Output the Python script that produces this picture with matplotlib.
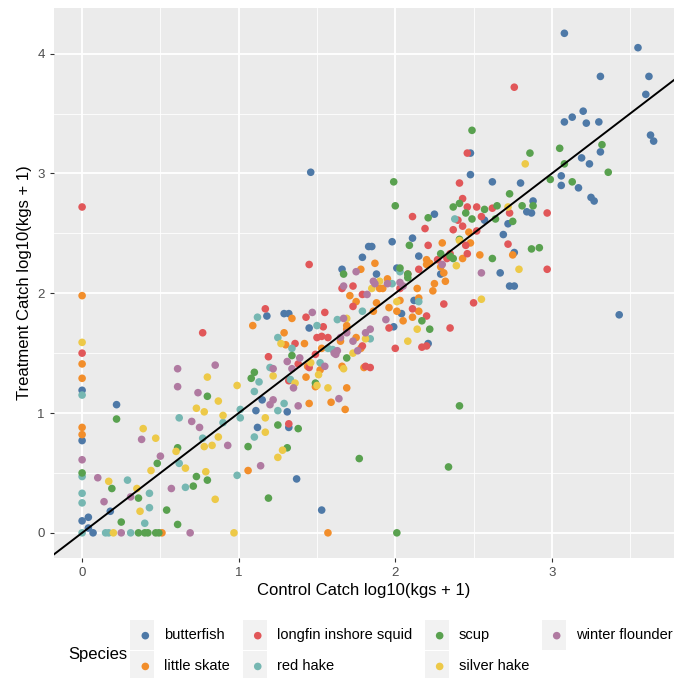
import matplotlib
matplotlib.use("Agg")
import matplotlib.pyplot as plt
from matplotlib.patches import Rectangle
import numpy as np

plt.rcParams['font.family'] = ['Liberation Sans', 'DejaVu Sans']

# species names in legend order
species = ['butterfish', 'little skate', 'longfin inshore squid', 'red hake',
           'scup', 'silver hake', 'winter flounder']
colors = ['#4E79A7', '#F28E2B', '#E15759', '#76B7B2', '#59A14F', '#EDC948', '#B07AA1']

# (control, treatment) log10(kgs + 1)
butterfish = [(0.00, 1.19), (0.00, 0.77), (0.04, 0.13), (0.00, 0.10), (0.04, 0.04), (0.07, 0.00),
              (0.22, 1.07), (0.18, 0.18), (1.11, 1.02), (1.15, 1.11), (1.31, 1.01), (1.12, 0.88),
              (1.32, 0.88), (1.37, 0.45), (1.53, 0.19), (1.18, 1.81), (1.29, 1.83), (1.32, 1.83),
              (1.45, 1.71), (1.46, 3.01), (1.66, 2.20), (1.79, 2.30), (1.83, 2.39), (1.85, 2.39),
              (1.88, 2.16), (1.98, 2.43), (1.99, 1.72), (2.01, 2.21), (2.04, 1.83), (2.11, 2.46),
              (2.12, 1.94), (2.14, 1.94), (2.15, 2.31), (2.21, 1.58), (2.25, 2.66), (2.29, 2.16),
              (2.48, 3.17), (2.48, 2.99), (2.57, 2.61), (2.62, 2.93), (2.67, 2.17), (2.69, 2.49),
              (2.72, 2.58), (2.73, 2.06), (2.76, 2.06), (2.76, 2.34), (2.80, 2.92), (2.84, 2.68),
              (2.87, 2.67), (2.88, 2.77), (3.08, 4.17), (3.55, 4.05), (3.31, 3.81), (3.62, 3.81),
              (3.60, 3.66), (3.20, 3.52), (3.13, 3.47), (3.08, 3.43), (3.22, 3.42), (3.30, 3.43),
              (3.63, 3.32), (3.65, 3.27), (3.31, 3.18), (3.19, 3.13), (3.24, 3.08), (3.06, 2.98),
              (3.06, 2.90), (3.17, 2.88), (3.25, 2.80), (3.27, 2.77), (3.43, 1.82)]

little_skate = [(0.00, 1.98), (0.00, 1.41), (0.00, 1.29), (0.00, 0.88), (0.00, 0.82), (0.51, 0.00),
                (1.06, 0.52), (1.09, 1.73), (1.29, 1.67), (1.30, 1.57), (1.34, 1.79), (1.42, 1.58),
                (1.43, 1.30), (1.44, 1.39), (1.45, 1.08), (1.49, 1.22), (1.52, 1.36), (1.53, 1.54),
                (1.57, 0.00), (1.59, 1.09), (1.65, 1.60), (1.66, 1.39), (1.68, 1.03), (1.69, 1.21),
                (1.69, 1.70), (1.69, 1.73), (1.71, 1.98), (1.75, 1.93), (1.75, 1.63), (1.78, 1.54),
                (1.78, 2.20), (1.80, 1.38), (1.86, 1.85), (1.87, 2.25), (1.88, 1.92), (1.90, 2.04),
                (1.92, 2.04), (1.95, 2.12), (1.96, 1.88), (2.01, 1.85), (2.03, 1.94), (2.05, 1.77),
                (2.11, 1.80), (2.14, 2.04), (2.15, 1.96), (2.15, 1.85), (2.20, 2.24), (2.20, 2.28),
                (2.22, 2.25), (2.24, 2.02), (2.25, 2.08), (2.29, 2.22), (2.30, 2.42), (2.31, 2.17),
                (2.32, 2.10), (2.43, 2.29), (2.47, 2.51), (2.48, 2.42), (2.54, 2.32), (2.75, 2.32)]

longfin_squid = [(0.00, 2.72), (0.00, 1.50), (0.77, 1.67), (1.17, 1.87), (1.43, 1.80), (1.55, 1.84),
                 (1.45, 2.24), (1.54, 1.72), (1.50, 1.63), (1.53, 1.64), (1.57, 1.63), (1.36, 1.58),
                 (1.49, 1.49), (1.19, 1.47), (1.38, 1.41), (1.45, 1.38), (1.32, 1.27), (1.32, 0.91),
                 (1.66, 2.04), (1.73, 2.06), (1.79, 1.99), (1.73, 1.89), (1.79, 1.56), (1.81, 1.39),
                 (1.84, 1.38), (1.96, 1.71), (2.00, 1.54), (2.03, 2.04), (2.08, 2.16), (2.11, 1.87),
                 (2.11, 2.64), (2.15, 2.20), (2.19, 2.54), (2.21, 2.40), (2.20, 1.81), (2.17, 1.55),
                 (2.20, 1.56), (2.27, 2.28), (2.33, 2.29), (2.35, 2.33), (2.31, 1.91), (2.35, 1.71),
                 (2.37, 2.53), (2.40, 2.61), (2.41, 2.92), (2.43, 2.79), (2.43, 2.56), (2.45, 2.40),
                 (2.46, 2.33), (2.46, 2.72), (2.46, 3.17), (2.50, 1.92), (2.52, 2.72), (2.52, 2.52),
                 (2.55, 2.64), (2.62, 2.71), (2.72, 2.41), (2.73, 2.67), (2.76, 3.72), (2.97, 2.67),
                 (2.97, 2.20)]

red_hake = [(0.00, 1.15), (0.00, 0.47), (0.00, 0.33), (0.00, 0.25), (0.00, 0.00), (0.15, 0.00),
            (0.17, 0.00), (0.31, 0.00), (0.29, 0.44), (0.43, 0.33), (0.43, 0.21), (0.40, 0.08),
            (0.62, 0.96), (0.62, 0.58), (0.66, 0.38), (0.77, 0.79), (0.90, 0.92), (1.01, 0.96),
            (1.01, 1.03), (0.99, 0.48), (1.10, 1.18), (1.10, 0.80), (1.12, 1.80), (1.13, 1.26),
            (1.20, 1.38), (1.25, 1.63), (1.34, 1.54), (1.29, 1.08), (1.25, 1.02), (1.33, 1.28),
            (1.50, 1.73), (1.63, 1.78), (1.57, 1.54), (1.60, 1.53), (1.52, 1.42), (1.79, 1.85),
            (1.84, 1.62), (1.98, 2.08), (2.03, 2.18), (2.15, 1.93), (2.38, 2.62)]

scup = [(0.00, 0.50), (0.22, 0.95), (0.19, 0.37), (0.36, 0.29), (0.25, 0.09), (0.36, 0.00),
        (0.40, 0.00), (0.42, 0.00), (0.47, 0.00), (0.49, 0.00), (0.48, 0.58), (0.54, 0.19),
        (0.61, 0.07), (0.61, 0.71), (0.73, 0.47), (0.80, 0.44), (0.71, 0.39), (0.80, 1.14),
        (1.06, 0.72), (1.10, 1.34), (1.08, 1.29), (1.25, 0.90), (1.38, 0.87), (1.31, 0.71),
        (1.19, 0.29), (1.34, 1.48), (1.49, 1.25), (1.69, 1.46), (1.67, 2.16), (1.77, 0.62),
        (1.99, 2.93), (2.00, 2.73), (2.01, 0.00), (2.03, 2.21), (2.08, 2.16), (2.08, 2.13),
        (2.09, 2.40), (2.17, 1.77), (2.22, 1.70), (2.21, 2.63), (2.29, 2.33), (2.34, 0.55),
        (2.35, 2.31), (2.37, 2.29), (2.37, 2.72), (2.41, 2.75), (2.41, 2.45), (2.41, 1.06),
        (2.45, 2.67), (2.49, 2.62), (2.49, 3.36), (2.57, 2.70), (2.62, 2.29), (2.64, 2.62),
        (2.65, 2.73), (2.73, 2.83), (2.75, 2.60), (2.81, 2.73), (2.86, 3.17), (2.87, 2.37),
        (2.88, 2.73), (2.92, 2.38), (2.99, 2.95), (3.05, 3.21), (3.08, 3.08), (3.13, 2.93),
        (3.32, 3.24), (3.36, 3.01)]

silver_hake = [(0.00, 1.59), (0.17, 0.43), (0.20, 0.00), (0.35, 0.37), (0.37, 0.18), (0.39, 0.87),
               (0.44, 0.52), (0.47, 0.79), (0.60, 0.68), (0.66, 0.54), (0.79, 0.51), (0.85, 0.28),
               (0.80, 1.30), (0.87, 1.10), (0.73, 1.04), (0.78, 1.01), (0.90, 0.98), (0.87, 0.80),
               (0.78, 0.72), (0.83, 0.73), (0.99, 1.23), (0.97, 0.00), (1.17, 0.96), (1.17, 0.84),
               (1.28, 0.69), (1.25, 0.63), (1.22, 1.31), (1.27, 1.58), (1.36, 1.25), (1.46, 1.42),
               (1.50, 1.23), (1.51, 1.32), (1.57, 1.21), (1.67, 1.37), (1.69, 1.79), (1.73, 1.50),
               (1.81, 1.62), (1.85, 2.04), (1.90, 2.10), (2.01, 1.93), (2.08, 1.60), (2.14, 1.70),
               (2.39, 2.23), (2.41, 2.44), (2.55, 1.95), (2.72, 2.72), (2.79, 2.20), (2.83, 3.08)]

winter_flounder = [(0.00, 0.61), (0.10, 0.46), (0.14, 0.26), (0.25, 0.00), (0.31, 0.30), (0.38, 0.78),
                   (0.50, 0.64), (0.57, 0.37), (0.61, 1.37), (0.61, 1.22), (0.69, 0.00), (0.70, 0.93),
                   (0.74, 1.17), (0.75, 0.88), (0.85, 1.40), (0.93, 0.73), (1.14, 0.56), (1.20, 1.07),
                   (1.22, 1.11), (1.22, 1.37), (1.31, 1.43), (1.34, 1.37), (1.35, 1.21), (1.38, 1.06),
                   (1.39, 1.46), (1.47, 1.84), (1.55, 1.39), (1.61, 1.50), (1.62, 1.49), (1.63, 1.52),
                   (1.64, 1.12), (1.65, 1.63), (1.67, 2.06), (1.67, 1.79), (1.69, 1.67), (1.73, 1.60),
                   (1.76, 1.52), (1.75, 2.18), (1.81, 1.67), (1.82, 1.99), (1.84, 1.70), (1.86, 2.10),
                   (1.87, 2.08), (1.94, 1.78), (1.95, 2.08), (2.03, 2.09), (2.05, 2.06), (2.30, 2.24),
                   (2.55, 2.17)]

series = [butterfish, little_skate, longfin_squid, red_hake, scup, silver_hake, winter_flounder]

fig = plt.figure(figsize=(6.74, 6.78), dpi=100)
ax = fig.add_axes([0.080, 0.177, 0.920, 0.811])
ax.set_facecolor('#EBEBEB')
for s in ax.spines.values():
    s.set_visible(False)

for name, pts, col in zip(species, series, colors):
    arr = np.array(pts)
    ax.scatter(arr[:, 0], arr[:, 1], s=30, color=col, edgecolors='none', label=name, zorder=3)

# 1:1 line
ax.axline((0, 0), slope=1, color='black', lw=1.4, zorder=4)

ax.set_xlim(-0.18, 3.78)
ax.set_ylim(-0.21, 4.38)
ax.set_xticks([0, 1, 2, 3])
ax.set_yticks([0, 1, 2, 3, 4])
ax.set_xticks([0.5, 1.5, 2.5, 3.5], minor=True)
ax.set_yticks([0.5, 1.5, 2.5, 3.5], minor=True)
ax.grid(which='major', color='white', lw=1.3, zorder=0)
ax.grid(which='minor', color='white', lw=0.6, zorder=0)
ax.set_axisbelow(True)
ax.tick_params(which='major', length=3, color='#333333', labelcolor='#4D4D4D', labelsize=9.5)
ax.tick_params(which='minor', length=0)

ax.set_xlabel('Control Catch log10(kgs + 1)', fontsize=12, labelpad=3)
ax.set_ylabel('Treatment Catch log10(kgs + 1)', fontsize=12, labelpad=4)

leg = fig.legend(loc='center left', bbox_to_anchor=(0.181, 0.04), ncol=4, frameon=False,
                 fontsize=10.5, handletextpad=0.6, columnspacing=1.2, labelspacing=1.15,
                 handlelength=1.4)
fig.text(0.102, 0.034, 'Species', fontsize=12, va='center', ha='left')

# grey key boxes behind the legend markers, like ggplot
fig.canvas.draw()
inv = fig.transFigure.inverted()
for t in leg.get_texts():
    bb = t.get_window_extent()
    cx = bb.x0 - 22
    cy = (bb.y0 + bb.y1) / 2
    (x0, y0) = inv.transform((cx - 12, cy - 15))
    (x1, y1) = inv.transform((cx + 12, cy + 15))
    fig.patches.append(Rectangle((x0, y0), x1 - x0, y1 - y0, transform=fig.transFigure,
                                 facecolor='#F2F2F2', edgecolor='none', zorder=-1))

fig.savefig('out.png', dpi=100)
